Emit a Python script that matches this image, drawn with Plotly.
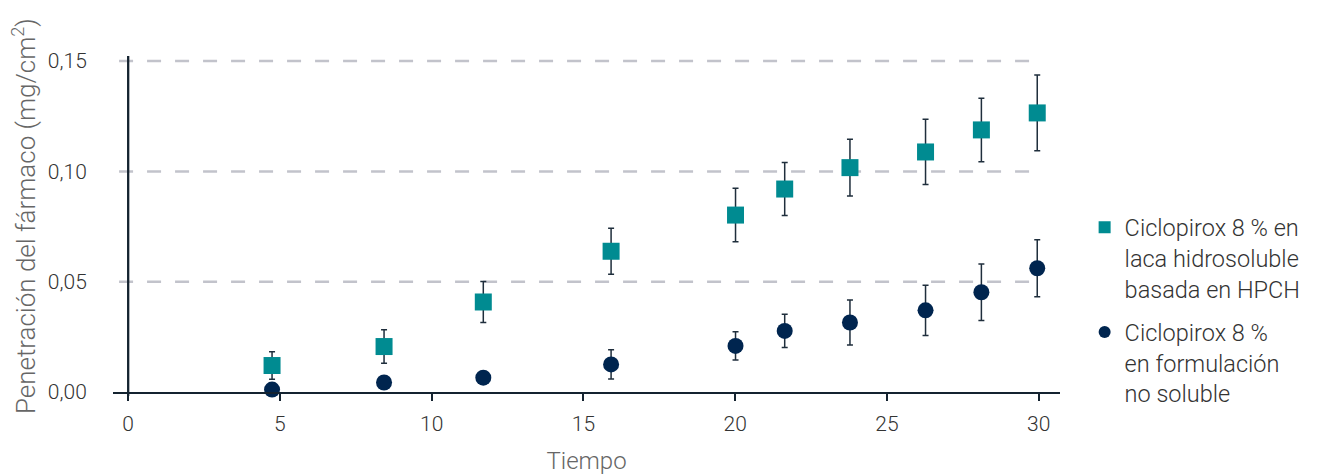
import plotly.graph_objects as go

# Data
tiempo = [4.74, 8.43, 11.70, 15.91, 20.01, 21.63, 23.78, 26.27, 28.11, 29.95]

hpch_name = "Ciclopirox 8 % en<br>laca hidrosoluble<br>basada en HPCH"
hpch_vals = [0.0120, 0.0206, 0.0408, 0.0638, 0.0802, 0.0920, 0.1017, 0.1088, 0.1188, 0.1265]
hpch_err = [0.0062, 0.0076, 0.0093, 0.0104, 0.0121, 0.0120, 0.0129, 0.0148, 0.0144, 0.0172]

nosol_name = "Ciclopirox 8 %<br>en formulación<br>no soluble"
nosol_vals = [0.0011, 0.0043, 0.0065, 0.0125, 0.0209, 0.0277, 0.0315, 0.0370, 0.0452, 0.0561]
nosol_err = [0.0, 0.0, 0.0, 0.0066, 0.0064, 0.0075, 0.0102, 0.0114, 0.0128, 0.0129]

x_ticks = [0, 5, 10, 15, 20, 25, 30]
y_ticks = [0.0, 0.05, 0.10, 0.15]

y_title = "Penetración del fármaco (mg/cm<sup>2</sup>)"
x_title = "Tiempo"

TEAL = "#008b91"
NAVY = "#00254f"
AXIS = "#142330"
ERR = "#1f2e3c"
FONT = "Roboto"
W = 300

fig = go.Figure()

fig.add_trace(go.Scatter(
    x=tiempo, y=hpch_vals, mode="markers", name=hpch_name, legendgroup="a",
    marker=dict(symbol="square", size=17, color=TEAL),
    error_y=dict(type="data", array=hpch_err, visible=True, color=ERR, thickness=1.5, width=3),
    cliponaxis=False,
))
fig.add_trace(go.Scatter(
    x=tiempo, y=nosol_vals, mode="markers", name=nosol_name, legendgroup="b",
    marker=dict(symbol="circle", size=16, color=NAVY),
    error_y=dict(type="data", array=nosol_err, visible=True, color=ERR, thickness=1.5, width=3),
    cliponaxis=False,
))

# dashed horizontal reference lines
for v in y_ticks[1:]:
    fig.add_shape(type="line", xref="x", yref="y", x0=-0.3, x1=30.05, y0=v, y1=v,
                  line=dict(color="#c2c3cb", width=2.5, dash="14px,14px"), layer="below")

# vertical axis line at x = 0
fig.add_shape(type="line", xref="x", yref="paper", x0=0, x1=0, y0=-0.012, y1=1,
              line=dict(color=AXIS, width=2.3), layer="above")

# y axis title
fig.add_annotation(text=y_title, xref="paper", yref="paper", x=-0.0945, y=0.522,
                   xanchor="center", yanchor="middle", textangle=-90, showarrow=False,
                   font=dict(family=FONT, size=26, color="#666666", weight=W))

fig.update_layout(
    width=1336, height=467,
    margin=dict(l=105, r=284, t=48, b=83, autoexpand=False),
    plot_bgcolor="white", paper_bgcolor="white",
    font=dict(family=FONT, size=21, color="#333333", weight=W),
    separators=",.",
    showlegend=True,
    legend=dict(
        x=1.026, y=0.555, xanchor="left", yanchor="top",
        font=dict(family=FONT, size=23.5, color="#333333", weight=W),
        valign="top", traceorder="grouped", tracegroupgap=10,
        itemsizing="constant", bgcolor="rgba(0,0,0,0)",
    ),
    xaxis=dict(
        range=[-0.5, 30.7], tickvals=x_ticks, showgrid=False, zeroline=False,
        showline=True, linecolor=AXIS, linewidth=2.3, automargin=False,
        ticks="outside", ticklen=7, tickwidth=2.3, tickcolor=AXIS, ticklabelstandoff=5,
        tickfont=dict(family=FONT, size=21, color="#333333", weight=W),
        title=dict(text=x_title, standoff=18,
                   font=dict(family=FONT, size=24, color="#666666", weight=W)),
    ),
    yaxis=dict(
        range=[0, 0.1523], tickvals=y_ticks, tickformat=".2f", showgrid=False,
        zeroline=False, showline=False, automargin=False,
        ticks="outside", ticklen=21, tickcolor="rgba(0,0,0,0)",
        tickfont=dict(family=FONT, size=21, color="#333333", weight=W),
    ),
)

fig.write_html("out.html")
